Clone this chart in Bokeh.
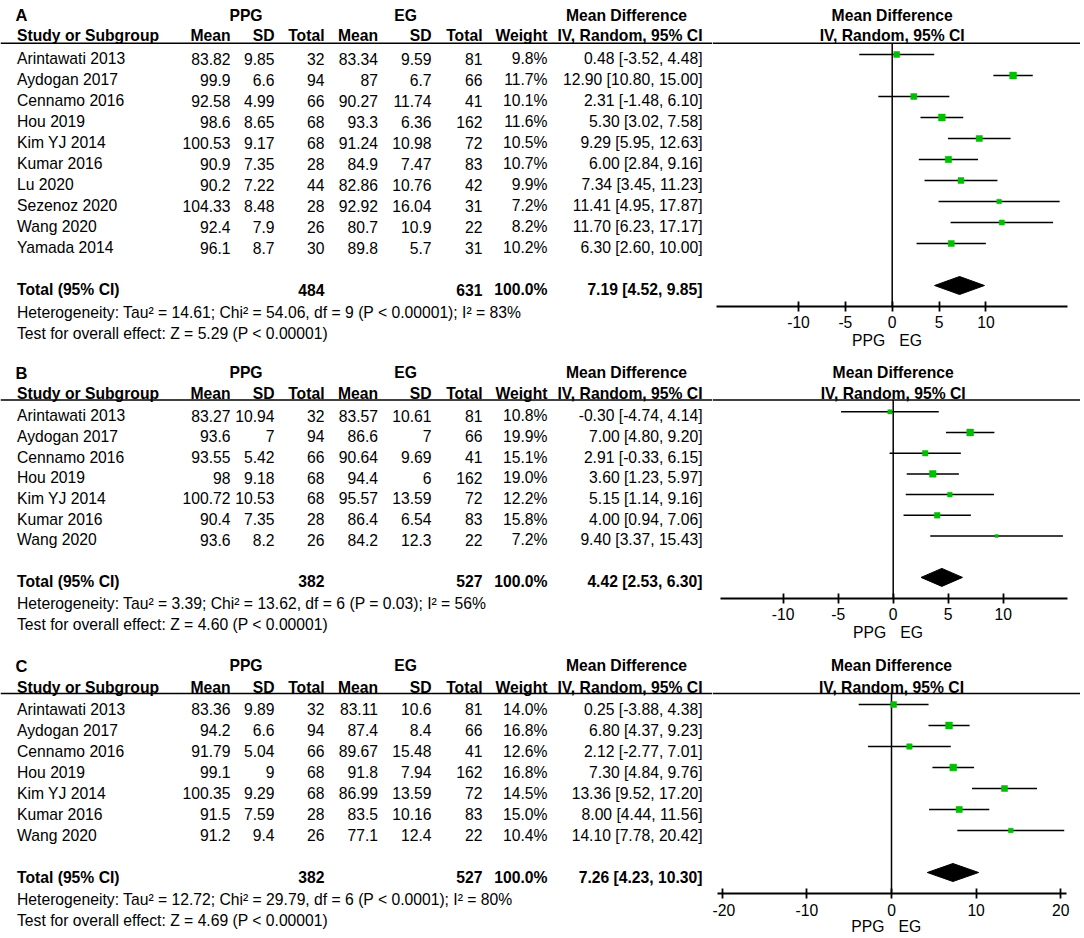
from bokeh.plotting import figure
from bokeh.layouts import column, row
from bokeh.models import Range1d, LinearAxis, FixedTicker, Span, ColumnDataSource
from bokeh.core.properties import value
from bokeh.embed import file_html
from bokeh.resources import INLINE

FONT = "Liberation Sans"
FS = "15.7px"
GREEN = "#00BF00"

# ---------------- data ----------------
studies_A = ["Arintawati 2013", "Aydogan 2017", "Cennamo 2016", "Hou 2019", "Kim YJ 2014",
             "Kumar 2016", "Lu 2020", "Sezenoz 2020", "Wang 2020", "Yamada 2014"]
ppg_mean_A = [83.82, 99.9, 92.58, 98.6, 100.53, 90.9, 90.2, 104.33, 92.4, 96.1]
ppg_sd_A = [9.85, 6.6, 4.99, 8.65, 9.17, 7.35, 7.22, 8.48, 7.9, 8.7]
ppg_n_A = [32, 94, 66, 68, 68, 28, 44, 28, 26, 30]
eg_mean_A = [83.34, 87, 90.27, 93.3, 91.24, 84.9, 82.86, 92.92, 80.7, 89.8]
eg_sd_A = [9.59, 6.7, 11.74, 6.36, 10.98, 7.47, 10.76, 16.04, 10.9, 5.7]
eg_n_A = [81, 66, 41, 162, 72, 83, 42, 31, 22, 31]
weight_A = [9.8, 11.7, 10.1, 11.6, 10.5, 10.7, 9.9, 7.2, 8.2, 10.2]
md_A = [0.48, 12.90, 2.31, 5.30, 9.29, 6.00, 7.34, 11.41, 11.70, 6.30]
lo_A = [-3.52, 10.80, -1.48, 3.02, 5.95, 2.84, 3.45, 4.95, 6.23, 2.60]
hi_A = [4.48, 15.00, 6.10, 7.58, 12.63, 9.16, 11.23, 17.87, 17.17, 10.00]
total_A = (484, 631, 100.0, 7.19, 4.52, 9.85)
het_A = "Heterogeneity: Tau\u00b2 = 14.61; Chi\u00b2 = 54.06, df = 9 (P < 0.00001); I\u00b2 = 83%"
test_A = "Test for overall effect: Z = 5.29 (P < 0.00001)"
ticks_A = [-10, -5, 0, 5, 10]

studies_B = ["Arintawati 2013", "Aydogan 2017", "Cennamo 2016", "Hou 2019", "Kim YJ 2014",
             "Kumar 2016", "Wang 2020"]
ppg_mean_B = [83.27, 93.6, 93.55, 98, 100.72, 90.4, 93.6]
ppg_sd_B = [10.94, 7, 5.42, 9.18, 10.53, 7.35, 8.2]
ppg_n_B = [32, 94, 66, 68, 68, 28, 26]
eg_mean_B = [83.57, 86.6, 90.64, 94.4, 95.57, 86.4, 84.2]
eg_sd_B = [10.61, 7, 9.69, 6, 13.59, 6.54, 12.3]
eg_n_B = [81, 66, 41, 162, 72, 83, 22]
weight_B = [10.8, 19.9, 15.1, 19.0, 12.2, 15.8, 7.2]
md_B = [-0.30, 7.00, 2.91, 3.60, 5.15, 4.00, 9.40]
lo_B = [-4.74, 4.80, -0.33, 1.23, 1.14, 0.94, 3.37]
hi_B = [4.14, 9.20, 6.15, 5.97, 9.16, 7.06, 15.43]
total_B = (382, 527, 100.0, 4.42, 2.53, 6.30)
het_B = "Heterogeneity: Tau\u00b2 = 3.39; Chi\u00b2 = 13.62, df = 6 (P = 0.03); I\u00b2 = 56%"
test_B = "Test for overall effect: Z = 4.60 (P < 0.00001)"
ticks_B = [-10, -5, 0, 5, 10]

studies_C = ["Arintawati 2013", "Aydogan 2017", "Cennamo 2016", "Hou 2019", "Kim YJ 2014",
             "Kumar 2016", "Wang 2020"]
ppg_mean_C = [83.36, 94.2, 91.79, 99.1, 100.35, 91.5, 91.2]
ppg_sd_C = [9.89, 6.6, 5.04, 9, 9.29, 7.59, 9.4]
ppg_n_C = [32, 94, 66, 68, 68, 28, 26]
eg_mean_C = [83.11, 87.4, 89.67, 91.8, 86.99, 83.5, 77.1]
eg_sd_C = [10.6, 8.4, 15.48, 7.94, 13.59, 10.16, 12.4]
eg_n_C = [81, 66, 41, 162, 72, 83, 22]
weight_C = [14.0, 16.8, 12.6, 16.8, 14.5, 15.0, 10.4]
md_C = [0.25, 6.80, 2.12, 7.30, 13.36, 8.00, 14.10]
lo_C = [-3.88, 4.37, -2.77, 4.84, 9.52, 4.44, 7.78]
hi_C = [4.38, 9.23, 7.01, 9.76, 17.20, 11.56, 20.42]
total_C = (382, 527, 100.0, 7.26, 4.23, 10.30)
het_C = "Heterogeneity: Tau\u00b2 = 12.72; Chi\u00b2 = 29.79, df = 6 (P < 0.0001); I\u00b2 = 80%"
test_C = "Test for overall effect: Z = 4.69 (P < 0.00001)"
ticks_C = [-20, -10, 0, 10, 20]

# ---------------- layout (picture pixel coordinates) ----------------
LEFT, SPLIT, RIGHT = 0, 712, 1080
COL_RIGHT = [230, 274, 324, 377.5, 431, 482, 547, 702]

panels = [
    dict(label="A", studies=studies_A, pm=ppg_mean_A, ps=ppg_sd_A, pn=ppg_n_A, em=eg_mean_A,
         es=eg_sd_A, en=eg_n_A, w=weight_A, md=md_A, lo=lo_A, hi=hi_A, tot=total_A,
         het=het_A, test=test_A, ticks=ticks_A,
         top=0, bottom=352, lab_y=14.5, hdr_y=35, line_y=42.7, row0=54, dy=21.0, off=4.3,
         axis_y=305.5, ppg_y=340, zero_px=891.7, k=9.37, bounds=(-18.7, 18.7)),
    dict(label="B", studies=studies_B, pm=ppg_mean_B, ps=ppg_sd_B, pn=ppg_n_B, em=eg_mean_B,
         es=eg_sd_B, en=eg_n_B, w=weight_B, md=md_B, lo=lo_B, hi=hi_B, tot=total_B,
         het=het_B, test=test_B, ticks=ticks_B,
         top=352, bottom=645, lab_y=372, hdr_y=392.5, line_y=399.5, row0=411.3, dy=20.7, off=3.8,
         axis_y=597.7, ppg_y=632, zero_px=892.7, k=11.0, bounds=(-15.7, 15.8)),
    dict(label="C", studies=studies_C, pm=ppg_mean_C, ps=ppg_sd_C, pn=ppg_n_C, em=eg_mean_C,
         es=eg_sd_C, en=eg_n_C, w=weight_C, md=md_C, lo=lo_C, hi=hi_C, tot=total_C,
         het=het_C, test=test_C, ticks=ticks_C,
         top=645, bottom=934, lab_y=665.3, hdr_y=686.7, line_y=693, row0=704, dy=21.0, off=4.8,
         axis_y=893.3, ppg_y=926, zero_px=891, k=8.46, bounds=(-20.6, 20.65)),
]


def fmt(v):
    return f"{v:g}"


def add_text(p, xs, ys, ts, align="left", bold=False, size=FS):
    src = ColumnDataSource(dict(x=list(xs), y=list(ys), t=list(ts)))
    p.text(x="x", y="y", text="t", source=src, text_align=align, text_baseline="middle",
           text_font=value(FONT), text_font_size=size,
           text_font_style="bold" if bold else "normal", text_color="#000000")


def base_fig(width, height, xr, yr):
    p = figure(width=width, height=height, x_range=xr, y_range=yr,
               x_axis_type=None, y_axis_type=None, output_backend="svg",
               toolbar_location=None, min_border=0, min_border_left=0, min_border_right=0,
               min_border_top=0, min_border_bottom=0, outline_line_color=None,
               background_fill_color="white", border_fill_color="white")
    p.grid.visible = False
    return p


def make_panel(d):
    h = d["bottom"] - d["top"]
    yr = Range1d(d["bottom"], d["top"])
    n = len(d["studies"])
    rows_y = [d["row0"] + d["dy"] * i for i in range(n)]
    text_y = [y + d["off"] for y in rows_y]
    tot_y = d["row0"] + d["dy"] * (n + 1)
    tot_ty = tot_y + d["off"]

    # ---------- table ----------
    t = base_fig(SPLIT - LEFT, h, Range1d(LEFT, SPLIT), yr)
    add_text(t, [15], [d["lab_y"]], [d["label"]], bold=True, size="16.5px")
    add_text(t, [245.5, 405, 626], [d["lab_y"]] * 3, ["PPG", "EG", "Mean Difference"],
             align="center", bold=True)
    add_text(t, [16.5], [d["hdr_y"]], ["Study or Subgroup"], bold=True)
    add_text(t, COL_RIGHT, [d["hdr_y"]] * 8,
             ["Mean", "SD", "Total", "Mean", "SD", "Total", "Weight", "IV, Random, 95% CI"],
             align="right", bold=True)
    t.add_layout(Span(location=d["line_y"], dimension="width", line_color="black",
                      line_width=1.6))
    add_text(t, [16.5] * n, text_y, d["studies"])
    cols = [
        [fmt(v) for v in d["pm"]], [fmt(v) for v in d["ps"]], [str(v) for v in d["pn"]],
        [fmt(v) for v in d["em"]], [fmt(v) for v in d["es"]], [str(v) for v in d["en"]],
        [f"{v:.1f}%" for v in d["w"]],
        [f"{m:.2f} [{a:.2f}, {b:.2f}]" for m, a, b in zip(d["md"], d["lo"], d["hi"])],
    ]
    for xr_, col in zip(COL_RIGHT, cols):
        add_text(t, [xr_] * n, text_y, col, align="right")
    tn1, tn2, tw, tm, tl, th = d["tot"]
    add_text(t, [16.5], [tot_ty], ["Total (95% CI)"], bold=True)
    add_text(t, [COL_RIGHT[2], COL_RIGHT[5], COL_RIGHT[6], COL_RIGHT[7]], [tot_ty] * 4,
             [str(tn1), str(tn2), f"{tw:.1f}%", f"{tm:.2f} [{tl:.2f}, {th:.2f}]"],
             align="right", bold=True)
    add_text(t, [16.5, 16.5], [tot_ty + 22.5, tot_ty + 43.5], [d["het"], d["test"]])

    # ---------- forest ----------
    xs = (SPLIT - d["zero_px"]) / d["k"]
    xe = (RIGHT - d["zero_px"]) / d["k"]
    f = base_fig(RIGHT - SPLIT, h, Range1d(xs, xe), yr)
    add_text(f, [0, 0], [d["lab_y"], d["hdr_y"]], ["Mean Difference", "IV, Random, 95% CI"],
             align="center", bold=True)
    f.add_layout(Span(location=d["line_y"], dimension="width", line_color="black",
                      line_width=1.6))
    f.segment(x0=[0], y0=[d["line_y"]], x1=[0], y1=[d["axis_y"]], line_color="black",
              line_width=1.5)
    f.segment(x0=d["lo"], x1=d["hi"], y0=rows_y, y1=rows_y, line_color="black",
              line_width=1.5)
    wmax = max(d["w"])
    sizes = [6.8 * (w / wmax) ** 0.8 for w in d["w"]]
    f.scatter(x=d["md"], y=rows_y, marker="square", size=sizes, fill_color=GREEN,
              line_color=GREEN, line_width=0.5)
    f.patch(x=[tl, tm, th, tm], y=[tot_y, tot_y - 9, tot_y, tot_y + 9], fill_color="black",
            line_color="black")
    ax = LinearAxis(fixed_location=d["axis_y"], bounds=d["bounds"],
                    ticker=FixedTicker(ticks=d["ticks"]),
                    major_label_overrides={v: str(v) for v in d["ticks"]},
                    major_tick_in=5, major_tick_out=5, minor_tick_line_color=None,
                    axis_line_width=1.8, axis_line_color="black",
                    major_tick_line_width=1.8, major_tick_line_color="black",
                    major_label_text_font=FONT, major_label_text_font_size=FS,
                    major_label_text_color="black", major_label_standoff=5)
    f.add_layout(ax, "below")
    src = ColumnDataSource(dict(x=[0, 0], y=[d["ppg_y"]] * 2, t=["PPG", "EG"],
                                a=["right", "left"], o=[-7, 7]))
    f.text(x="x", y="y", text="t", source=src, text_align="a", x_offset="o",
           text_baseline="middle", text_font=value(FONT), text_font_size=FS,
           text_color="#000000")
    return row(t, f)


layout = column(*[make_panel(d) for d in panels])
open("out.html", "w").write(file_html(layout, INLINE))
